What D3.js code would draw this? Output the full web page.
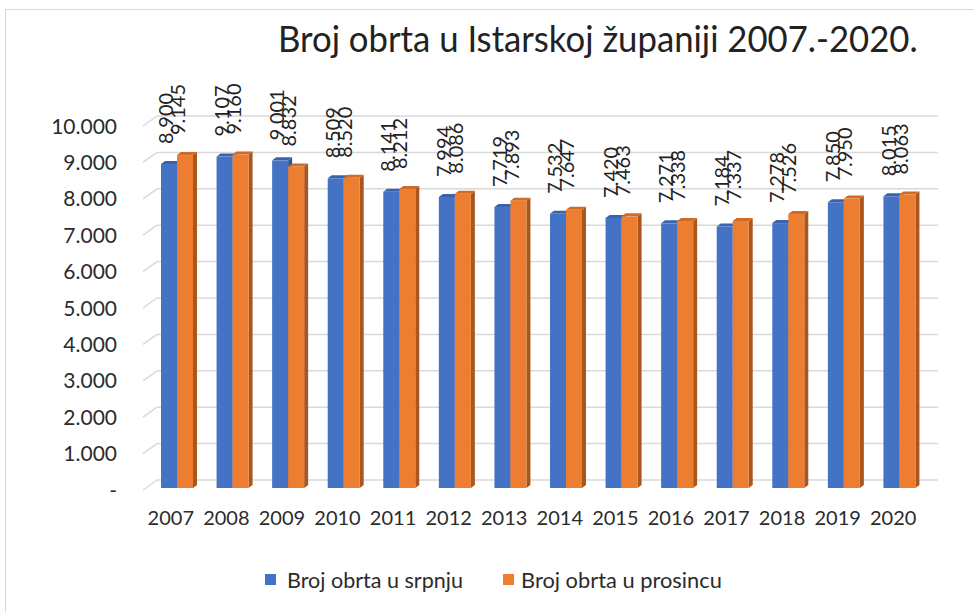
<!DOCTYPE html>
<html><head><meta charset="utf-8">
<script src="https://cdn.jsdelivr.net/npm/d3@7"></script>
<style>
html,body{margin:0;padding:0;background:#fff;}
svg{display:block;font-family:Lato,"Open Sans",sans-serif;}
</style></head>
<body>
<svg id="c" width="974" height="612"></svg>
<script>
const years = ["2007","2008","2009","2010","2011","2012","2013","2014","2015","2016","2017","2018","2019","2020"];
const julyValues = [8900,9107,9001,8509,8141,7994,7719,7532,7420,7271,7184,7278,7850,8015];
const decValues  = [9145,9160,8832,8520,8212,8086,7893,7647,7463,7338,7337,7526,7950,8063];
const seriesNames = ["Broj obrta u srpnju","Broj obrta u prosincu"];
const yTicks = [0,1000,2000,3000,4000,5000,6000,7000,8000,9000,10000];
const titleText = "Broj obrta u Istarskoj županiji 2007.-2020.";

const colors = ["#4472C4","#ED7D31"];
const sideColors = ["#2F5597","#A9561F"];
const topColors = ["#3A63AE","#D06A25"];

const svg = d3.select("#c");
// chart border
svg.append("rect").attr("x",5.5).attr("y",9.5).attr("width",1000).attr("height",700)
  .attr("fill","#fff").attr("stroke","#d9d9d9").attr("stroke-width",1);

const fmt = v => v === 0 ? "-" : d3.format(",")(v).replace(/,/g,".");

const y = d3.scaleLinear().domain([0,10000]).range([490,126]);
const x = d3.scaleBand().domain(years).range([143,921]);
const xs = d3.scaleBand().domain([0,1]).range([18,50]);
const depthX = 14, depthY = -10;

// gridlines: back wall + left side diagonals
const g = svg.append("g");
yTicks.forEach(t => {
  const yf = y(t);
  g.append("line").attr("x1",x.range()[0]+depthX).attr("x2",x.range()[1]+depthX+3)
    .attr("y1",yf+depthY).attr("y2",yf+depthY).attr("stroke","#d9d9d9").attr("stroke-width",1.5);
  g.append("line").attr("x1",x.range()[0]).attr("x2",x.range()[0]+depthX)
    .attr("y1",yf).attr("y2",yf+depthY).attr("stroke","#d9d9d9").attr("stroke-width",1.5);
});

// y-axis labels
svg.append("g").selectAll("text").data(yTicks).join("text")
  .attr("x",117).attr("y",d=>y(d)).attr("dy","0.36em").attr("text-anchor","end")
  .attr("font-size",21).attr("fill","#2b2b2b").text(fmt);

// x labels
svg.append("g").selectAll("text").data(years).join("text")
  .attr("x",d=>x(d)+x.bandwidth()/2).attr("y",518).attr("dy","0.36em").attr("text-anchor","middle")
  .attr("font-size",20).attr("fill","#2b2b2b").text(d=>d);

// bars
const bOff = -2;
const dx = 4, dy = -3;
const series = [julyValues, decValues];
const bars = svg.append("g");
years.forEach((yr,i) => {
  series.forEach((vals,s) => {
    const v = vals[i];
    const xl = x(yr) + xs(s), xr = xl + xs.bandwidth();
    const yt = y(v) + bOff, yb = y(0) + bOff;
    bars.append("path").attr("d",`M${xr},${yt}L${xr+dx},${yt+dy}L${xr+dx},${yb+dy}L${xr},${yb}Z`).attr("fill",sideColors[s]);
    bars.append("path").attr("d",`M${xl},${yt}L${xl+dx},${yt+dy}L${xr+dx},${yt+dy}L${xr},${yt}Z`).attr("fill",topColors[s]);
    bars.append("rect").attr("x",xl).attr("y",yt).attr("width",xr-xl).attr("height",yb-yt).attr("fill",colors[s]);
  });
});

// data labels (rotated)
const labels = svg.append("g");
years.forEach((yr,i) => {
  series.forEach((vals,s) => {
    const v = vals[i];
    const cx = x(yr) + xs(s) + xs.bandwidth()/2 - (s===0?3:7);
    const yt = y(v) + bOff - 20;
    labels.append("text").attr("transform",`translate(${cx},${yt}) rotate(-90)`)
      .attr("dy","0.36em").attr("text-anchor","start").attr("font-size",20).attr("fill","#222")
      .text(fmt(v));
  });
});

// title
const title = svg.append("text").attr("x",0).attr("y",0).attr("font-size",37).attr("font-weight",400)
  .attr("fill","#222").text(titleText);
const tl = title.node().getComputedTextLength();
title.attr("transform",`translate(278,52) scale(${640/tl},1)`);

// legend
const leg = svg.append("g");
const legItems = [{x:265,tx:287,w:176},{x:503,tx:521,w:201}];
seriesNames.forEach((n,i) => {
  leg.append("rect").attr("x",legItems[i].x).attr("y",574).attr("width",11).attr("height",11).attr("fill",colors[i]);
  const t = leg.append("text").attr("x",0).attr("y",0).attr("dy","0.36em").attr("font-size",21).attr("fill","#2b2b2b").text(n);
  const w = t.node().getComputedTextLength();
  t.attr("transform",`translate(${legItems[i].tx},580) scale(${legItems[i].w/w},1)`);
});
</script>
</body></html>
